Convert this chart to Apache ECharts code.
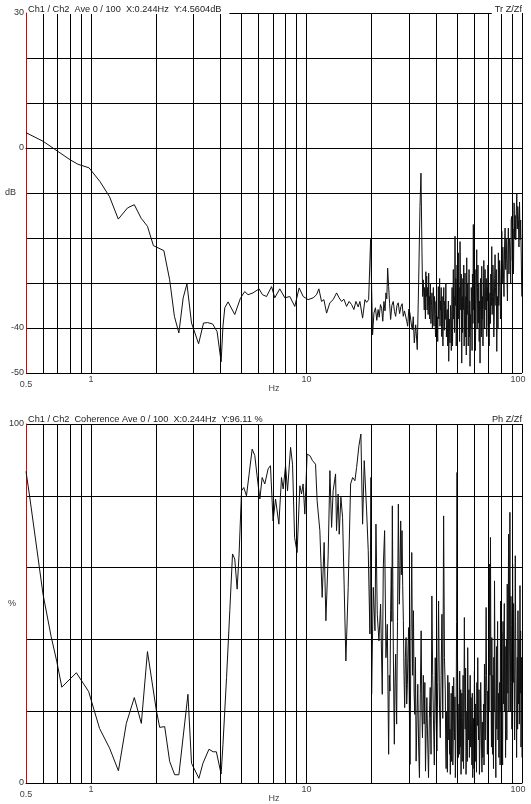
<!DOCTYPE html>
<html>
<head>
<meta charset="utf-8">
<script src="https://cdn.jsdelivr.net/npm/echarts/dist/echarts.min.js"></script>
<style>
  html, body { margin: 0; padding: 0; background: #fff; }
  #chart { width: 531px; height: 804px; }
</style>
</head>
<body>
<div id="chart"></div>
<script>
// 标题文字
const topTitle = "Ch1 / Ch2  Ave 0 / 100  X:0.244Hz  Y:4.5604dB";
const topTag = "Tr Z/Zf";
const bottomTitle = "Ch1 / Ch2  Coherence Ave 0 / 100  X:0.244Hz  Y:96.11 %";
const bottomTag = "Ph Z/Zf";

// 刻度
const hzTicks = [0.5, 1, 10, 100];
const hzGrid = [0.6, 0.7, 0.8, 0.9, 1, 2, 3, 4, 5, 6, 7, 8, 9, 10, 20, 30, 40, 50, 60, 70, 80, 90, 100];
const dbTicks = [30, 0, -40, -50];
const pctTicks = [100, 0];

// 传递函数 [Hz, dB]
const transferDb = [
  [0.5,3.4],[0.6,1.5],[0.7,-0.7],[0.8,-2.6],[0.87,-3.6],[0.98,-4.4],[1.1,-7.4],[1.22,-10.8],[1.34,-15.8],[1.48,-13.3],
  [1.59,-12.6],[1.71,-15.6],[1.83,-17.4],[1.95,-21.7],[2.18,-22.8],[2.32,-29.3],[2.44,-37.4],[2.56,-41.1],[2.68,-33.3],[2.79,-30.2],
  [2.93,-38.9],[3.16,-43.5],[3.33,-38.9],[3.48,-38.8],[3.67,-39.1],[3.85,-40.8],[4.02,-47.5],[4.1,-39.6],[4.18,-35.5],[4.33,-34.2],
  [4.65,-37.0],[4.94,-33.4],[5.17,-31.9],[5.36,-32.6],[5.65,-32.2],[6.03,-31.3],[6.25,-32.6],[6.53,-33.0],[6.89,-30.8],[7.13,-33.3],
  [7.52,-31.3],[7.94,-33.3],[8.37,-33.0],[8.83,-35.2],[9.25,-31.1],[9.66,-33.0],[10.18,-33.7],[10.74,-33.3],[11.14,-32.6],[11.42,-31.3],
  [11.75,-34.1],[12.05,-33.7],[12.4,-36.7],[12.84,-34.4],[13.3,-33.7],[13.8,-32.2],[14.18,-33.3],[14.55,-34.1],[14.92,-33.6],[15.35,-35.2],
  [15.78,-34.1],[16.19,-34.8],[16.6,-35.9],[16.96,-34.1],[17.38,-35.3],[17.7,-34.1],[18.22,-37.8],[18.68,-33.7],[19.02,-34.3],[19.43,-33.7],
  [19.7,-34.1],[19.85,-20.3],[20.27,-41.5],
  [20.56,-36.7],[20.9,-35.5],[21.2,-38.3],[21.5,-35.9],[21.76,-37.6],[22.05,-34.8],[22.33,-35.6],[22.6,-38.5],[22.88,-34.1],[23.15,-36.2],
  [23.38,-32.2],[23.6,-33.5],[23.81,-26.7],[24.06,-30.8],[24.3,-34.5],[24.58,-38.1],[24.9,-35.0],[25.28,-34.1],[25.6,-36.3],[25.93,-37.4],
  [26.3,-35.0],[26.66,-34.4],[27.05,-36.8],[27.45,-35.2],[27.8,-34.6],[28.13,-37.4],[28.5,-36.2],[28.86,-35.9],[29.2,-38.5],[29.49,-39.6],
  [29.85,-35.8],[30.2,-36.7],[30.6,-38.9],[30.97,-40.4],[31.3,-37.5],[31.64,-43.3],[32.12,-39.3],[32.4,-42.0],[32.67,-44.8],[33.17,-29.3],
  [33.63,-13.0],[33.99,-5.6],[34.36,-23.3],[34.6,-33.0],[34.84,-29.3],
  [35.2,-36.0],[35.34,-31],[35.48,-33.0],[35.64,-38],[35.8,-27.5],[35.96,-33],[36.13,-28.5],[36.3,-36],[36.5,-31.0],[36.7,-37],
  [36.91,-27.8],[37.05,-35],[37.2,-33.0],[37.3,-38],[37.43,-34.4],[37.6,-30],[37.8,-39.0],[38.0,-35],[38.23,-32.2],[38.4,-40],
  [38.6,-36.0],[38.8,-31],[39.06,-39.6],[39.28,-33],[39.5,-37.0],[39.7,-42],[39.9,-34.1],[40.15,-40],[40.4,-37.5],[40.65,-43],
  [40.9,-30.8],[41.1,-38],[41.3,-35.5],[41.48,-29],[41.65,-39.6],[41.82,-34],[42.0,-36.0],[42.2,-31],[42.41,-41.9],[42.6,-33],
  [42.8,-38.0],[42.97,-44],[43.14,-35.2],[43.37,-31],[43.6,-40.5],[43.84,-34],[44.08,-38.1],[44.34,-30],[44.6,-42.0],[44.8,-37],
  [45.03,-35.9],[45.2,-44],[45.4,-41.0],[45.55,-34],[45.71,-47.4],[46.03,-38],[46.35,-43.3],[46.58,-35],[46.8,-39.0],[47.0,-45],
  [47.2,-37.4],[47.4,-31],[47.6,-44.0],[47.8,-36],[48.02,-27.0],[48.2,-38],[48.4,-33.0],[48.65,-41],[48.89,-19.6],[49.1,-35],
  [49.3,-29.0],[49.55,-44],[49.79,-32.2],[50.0,-26],[50.2,-41.0],[50.42,-34],[50.65,-23.3],[50.88,-38],[51.1,-31.0],[51.35,-43],
  [51.58,-20.8],[51.8,-30],[52.0,-36.0],[52.27,-28],[52.53,-47.8],[52.77,-33],[53.0,-41.0],[53.2,-29],[53.43,-35.9],[53.67,-26],
  [53.9,-44.0],[54.15,-38],[54.41,-27.8],[54.65,-42],[54.9,-33.0],[55.15,-46],[55.41,-24.4],[55.7,-37],[56.0,-30.0],[56.3,-44],
  [56.61,-35.9],[56.8,-27],[57.0,-42.0],[57.2,-34],[57.4,-48.5],[57.65,-37],[57.9,-40.0],[58.17,-31],[58.45,-34.4],[58.67,-45],
  [58.9,-28.0],[59.2,-39],[59.46,-17.0],[59.73,-36],[60.0,-30.0],[60.27,-41],[60.55,-27.0],[60.8,-45],[61.1,-35.0],[61.4,-30],
  [61.67,-22.6],[61.93,-40],[62.2,-31.0],[62.47,-26],[62.73,-38.9],[63.0,-30],[63.3,-43.0],[63.6,-34],[63.88,-47.8],[64.2,-29],
  [64.5,-36.0],[64.78,-42],[65.05,-26.3],[65.33,-38],[65.6,-33.0],[65.9,-44],[66.17,-35.9],[66.5,-25],[66.8,-31.0],[67.1,-40],
  [67.39,-27.0],[67.7,-33],[68.0,-36.0],[68.3,-29],[68.62,-41.9],[68.9,-31],[69.2,-34.0],[69.5,-26],[69.81,-39.6],[70.1,-30],
  [70.4,-44.0],[70.75,-36],[71.09,-32.2],[71.4,-39],[71.7,-28.0],[72.05,-35],[72.39,-21.9],[72.7,-37],[73.0,-33.0],[73.3,-26],
  [73.64,-30.0],[74.0,-42],[74.3,-38.0],[74.65,-29],[74.99,-23.7],[75.35,-31],[75.7,-35.0],[76.0,-27],[76.37,-45.2],[76.7,-36],
  [77.0,-33.0],[77.35,-40],[77.69,-23.3],[78.05,-35],[78.4,-31.0],[78.75,-25],[79.12,-28.5],[79.45,-38],[79.8,-36.0],[80.2,-27],
  [80.57,-18.5],[81.0,-30.0],[81.5,-22.0],[81.96,-21.9],[82.5,-33.0],[83.0,-22.0],[83.46,-17.8],[84.0,-27.0],[84.5,-20.0],[85.0,-25.6],
  [85.6,-34.0],[86.0,-22.0],[86.44,-17.8],[87.0,-28.0],[87.5,-20.0],[88.04,-21.9],[88.6,-30.0],[89.1,-16.0],[89.66,-15.2],[90.2,-25.0],
  [90.8,-18.0],[91.3,-28.0],[91.89,-12.2],[92.5,-20.0],[93.0,-15.0],[93.58,-20.4],[94.1,-14.0],[94.58,-10.0],[95.1,-18.0],[95.6,-13.0],
  [96.22,-15.9],[96.8,-22.0],[97.4,-12.0],[97.98,-20.4],[98.6,-16.0],[99.2,-24.0],[99.77,-33.0]
];

// 相干 [Hz, %]
const coherencePct = [
  [0.5,86.8],[0.52,79.8],[0.6,52.5],[0.654,40.8],[0.695,33.8],[0.733,26.7],[0.856,30.7],[0.976,25.5],[1.097,15.2],[1.221,9.7],
  [1.342,3.4],[1.46,16.6],[1.59,23.8],[1.714,16.6],[1.83,36.6],[2.01,20.4],[2.085,15.5],[2.2,15.7],[2.32,6.0],[2.447,2.3],
  [2.56,2.3],[2.82,24.7],[2.93,5.5],[3.17,1.3],[3.31,5.5],[3.53,9.4],[3.69,8.7],[3.82,8.7],[4.02,2.5],
  [4.1,10.8],[4.26,29.4],[4.41,48.0],[4.54,63.8],[4.65,62.4],[4.77,54.0],[4.87,63.8],[5.0,81.4],[5.12,82.3],[5.27,80.0],
  [5.42,86.0],[5.6,93.0],[5.76,91.2],[5.9,85.6],[6.08,79.1],[6.23,85.1],[6.41,83.3],[6.64,87.5],[6.81,88.4],[7.0,73.0],
  [7.19,79.1],[7.45,72.1],[7.66,85.1],[7.8,81.9],[8.0,88.4],[8.17,81.4],[8.44,93.5],[8.62,88.8],[8.81,68.4],[9.05,64.2],
  [9.32,82.8],[9.49,80.5],[9.65,83.3],[9.83,74.9],[10.07,91.6],[10.37,91.2],[10.67,89.8],[11.02,88.8],[11.21,78.6],[11.54,70.3],
  [11.83,51.7],[12.08,67.0],[12.31,45.2],[12.61,63.3],[12.85,87.0],[13.08,71.2],[13.3,81.4],[13.65,86.1],[13.79,70.3],[14.03,80.5],
  [14.19,69.3],[14.45,79.6],[14.71,74.0],[15.24,34.0],[15.62,54.5],[16.03,83.3],[16.38,85.1],[16.78,84.2],[17.09,87.9],[17.52,94.0],
  [17.89,97.2],[18.22,72.1],[18.54,89.8],[19.02,75.8],[19.35,64.7],[19.7,41.5],[19.92,85.1],
  [20.06,24.7],[20.42,54.5],[20.79,42.4],[21.01,72.1],[21.31,47.0],[21.69,39.6],[22.08,49.8],[22.48,24.7],[22.72,60.0],[23.05,70.3],
  [23.38,34.9],[23.72,44.2],
  [24.06,8.0],[24.23,30.0],[24.41,25.6],[24.58,48],[24.76,60.0],[24.9,45],[25.03,77.2],[25.17,55],[25.3,36.8],[25.44,22],
  [25.57,10.8],[25.75,28],[25.94,35.9],[26.08,24],[26.21,16.4],[26.45,45],[26.69,77.7],[26.84,62],[26.98,49.8],[27.18,60],
  [27.37,73.0],[27.56,58],[27.76,70.3],[27.96,55],[28.16,45.2],[28.36,30],[28.56,21.0],[28.77,35],[28.98,40.5],[29.18,22],
  [29.39,27.5],[29.6,38],[29.82,43.3],[30.03,20],[30.25,5.2],[30.52,40],[30.8,64.2],[31.08,30],[31.36,48.0],[31.58,25],
  [31.81,19.1],[32.04,35],[32.27,6.1],[32.56,18],[32.85,27.5],[33.15,10],[33.44,1.5],[33.75,25],[34.05,42.4],[34.3,20],
  [34.54,12.6],[34.85,30],[35.17,16.4],[35.42,28],[35.67,3.3],[35.93,15],[36.19,23.8],[36.5,12],[36.84,1.5],[37.17,18],
  [37.51,26.6],[37.85,8],[38.18,52.1],[38.52,30],[38.87,16.4],[39.2,5],[39.58,34.9],[39.93,20],[40.29,8.9],[40.65,28],
  [41.02,50.7],[41.4,22],[41.77,12.6],[42.15,30],[42.52,47.0],[42.9,18],[43.29,74.4],[43.68,35],
  [44.07,25.6],[44.27,10],[44.47,4],[44.67,20],[44.87,11.7],[45.07,3],[45.27,30],[45.48,12],[45.68,19.1],[45.9,28],
  [46.1,8],[46.3,15],[46.5,2.4],[46.7,12],[46.92,25],[47.13,6],[47.34,16.4],[47.55,27],[47.77,5],[48.0,14],
  [48.2,29.4],[48.4,20],[48.63,12],[48.85,24],[49.07,1.5],[49.3,10],[49.5,20],[49.73,45],[49.96,86.5],[50.13,40],
  [50.3,30],[50.5,15],[50.67,7.1],[50.85,18],[51.03,22],[51.2,8],[51.4,31.2],[51.6,20],[51.77,10],[51.95,26],
  [52.14,2.4],[52.37,14],[52.6,25],[52.83,6],[53.07,18.2],[53.3,30],[53.55,4],[53.8,22],[54.03,46.1],[54.27,25],
  [54.5,15],[54.75,32],[55.0,2.4],[55.25,12],[55.5,20],[55.75,6],[55.99,37.7],[56.25,22],[56.5,12],[56.75,26],
  [57.0,7.1],[57.25,18],[57.5,30],[57.77,10],[58.03,23.8],[58.3,14],[58.55,5],[58.8,25],[59.08,1.5],[59.35,10],
  [59.6,18],[59.88,4],[60.15,31.2],[60.42,18],[60.7,6],[60.97,22],[61.23,14.5],[61.5,3],[61.78,28],[62.06,16],
  [62.34,34.9],[62.62,20],[62.9,12],[63.18,26],[63.46,2.4],[63.75,9],[64.03,15],[64.32,28],[64.61,21.0],[64.9,10],
  [65.2,3],[65.48,17],[65.77,7.1],[66.06,14],[66.36,22],[66.66,5],[66.96,33.1],[67.26,20],[67.56,12],[67.86,30],
  [68.17,48.9],[68.47,30],[68.78,20],[69.1,8],[69.4,25.6],[69.7,12],[70.0,40],[70.32,20],[70.65,61.0],[70.84,45],
  [71.03,30],[71.22,48],[71.41,68.4],[71.67,40],[71.92,22],[72.18,10],[72.44,40.5],[72.7,25],[72.96,8],[73.22,30],
  [73.49,16.4],[73.75,4],[74.02,35],[74.28,20],[74.55,56.3],[74.82,38],[75.1,20],[75.37,10],[75.63,1.5],[75.9,22],
  [76.17,38],[76.45,15],[76.72,29.4],[77.06,45],[77.4,12],[77.75,25],[78.1,7.1],[78.45,18],[78.8,28],[79.15,5],
  [79.51,50.7],[79.87,20],[80.23,30],[80.6,42],[80.95,16.4],[81.3,5],[81.68,45],[82.05,22],[82.41,35.9],[82.78,50],
  [83.15,20],[83.52,38],[83.9,7.1],[84.27,25],[84.65,40],[85.03,12],[85.41,55.4],[85.72,32],[86.03,25],[86.34,48],
  [86.65,69.3],[86.96,20],[87.27,35],[87.58,55],[87.89,75.4],[88.2,40],[88.52,20],[88.84,52],[89.16,44.2],[89.48,28],
  [89.8,15],[90.12,38],[90.45,61.0],[90.78,42],[91.1,28],[91.42,50],[91.75,34.9],[92.08,22],[92.4,12],[92.74,40],
  [93.08,63.3],[93.42,45],[93.75,30],[94.1,18],[94.42,7.1],[94.76,25],[95.1,35],[95.44,15],[95.78,48.0],[96.12,30],
  [96.47,22],[96.82,40],[97.17,16.4],[97.52,30],[97.87,55],[98.22,25],[98.57,42.4],[98.93,10],[99.3,20],[99.65,35],
  [100,7.1]
];

const FONT = "'Liberation Sans', Arial, sans-serif";
const LINE_COLOR = "#111";

let myChart = echarts.init(document.getElementById("chart"), null, { renderer: "canvas" });

function isTick(list, v) {
  return list.some((t) => Math.abs(t - v) < 1e-6);
}

function hzAxis(gridIndex) {
  return {
    gridIndex: gridIndex,
    type: "log",
    logBase: 10,
    min: 0.5,
    max: 100,
    axisLine: { show: true, lineStyle: { color: "#000", width: 1 } },
    axisTick: { show: false },
    splitLine: { show: false },
    axisLabel: {
      show: true,
      margin: 2,
      fontSize: 9,
      color: "#444",
      fontFamily: FONT,
      showMinLabel: true,
      showMaxLabel: true,
      formatter: (v) => {
        if (!isTick(hzTicks, v)) return "";
        if (Math.abs(v - 0.5) < 1e-6) return "{lo|0.5}";
        if (Math.abs(v - 100) < 1e-6) return "{hi|100}";
        return String(Math.round(v));
      },
      rich: {
        lo: { padding: [5, 0, 0, 0], fontSize: 9, color: "#444", fontFamily: FONT },
        hi: { padding: [0, 8, 0, 0], fontSize: 9, color: "#444", fontFamily: FONT },
      },
    },
    name: "Hz",
    nameLocation: "middle",
    nameGap: 11,
    nameMoveOverlap: false,
    nameTextStyle: { fontSize: 9, color: "#444", fontFamily: FONT },
  };
}

function valueAxis(gridIndex, min, max, interval, ticks, unit) {
  return {
    gridIndex: gridIndex,
    type: "value",
    min: min,
    max: max,
    interval: interval,
    axisLine: { show: true, onZero: false, lineStyle: { color: "#e00000", width: 1 } },
    axisTick: { show: false },
    splitLine: { show: true, lineStyle: { color: "#000", width: 1 } },
    axisLabel: {
      margin: 2,
      fontSize: 9,
      color: "#333",
      fontFamily: FONT,
      showMinLabel: true,
      showMaxLabel: true,
      formatter: (v) => (isTick(ticks, v) ? String(v) : ""),
    },
    name: unit,
    nameLocation: "middle",
    nameRotate: 0,
    nameGap: 10,
    nameMoveOverlap: false,
    nameTextStyle: { fontSize: 9, color: "#333", fontFamily: FONT },
  };
}

function gridLines(axisIndex) {
  // 竖向网格线（对数刻度）
  return {
    type: "line",
    xAxisIndex: axisIndex,
    yAxisIndex: axisIndex,
    data: [],
    silent: true,
    z: 1,
    markLine: {
      silent: true,
      symbol: "none",
      animation: false,
      label: { show: false },
      lineStyle: { color: "#000", width: 1, type: "solid" },
      emphasis: { disabled: true },
      data: hzGrid.map((v) => ({ xAxis: v })),
    },
  };
}

function titleBox(text, pos, top) {
  return Object.assign(
    {
      text: text,
      top: top,
      padding: pos.left !== undefined ? [1, 8, 0, 1] : [1, 0, 0, 3],
      backgroundColor: "#fff",
      z: 10,
      textStyle: { fontSize: 9.2, lineHeight: 10, fontWeight: "normal", color: "#222", fontFamily: FONT },
    },
    pos
  );
}

let option = {
  animation: false,
  backgroundColor: "#fff",
  textStyle: { fontFamily: FONT },
  title: [
    titleBox(topTitle, { left: 27 }, 3),
    titleBox(topTag, { right: 9 }, 3),
    titleBox(bottomTitle, { left: 27 }, 413),
    titleBox(bottomTag, { right: 9 }, 413),
  ],
  grid: [
    { left: 26, right: 9, top: 13, height: 360, containLabel: false, outerBoundsMode: "none" },
    { left: 26, right: 9, top: 424, height: 359, containLabel: false, outerBoundsMode: "none" },
  ],
  xAxis: [hzAxis(0), hzAxis(1)],
  yAxis: [
    valueAxis(0, -50, 30, 10, dbTicks, "dB"),
    valueAxis(1, 0, 100, 20, pctTicks, "%"),
  ],
  series: [
    gridLines(0),
    gridLines(1),
    {
      name: "Tr Z/Zf",
      type: "line",
      xAxisIndex: 0,
      yAxisIndex: 0,
      data: transferDb,
      symbol: "none",
      z: 3,
      lineStyle: { color: LINE_COLOR, width: 1 },
      emphasis: { disabled: true },
    },
    {
      name: "Coherence",
      type: "line",
      xAxisIndex: 1,
      yAxisIndex: 1,
      data: coherencePct,
      symbol: "none",
      z: 3,
      lineStyle: { color: LINE_COLOR, width: 1 },
      emphasis: { disabled: true },
    },
  ],
};

option && myChart.setOption(option);
</script>
</body>
</html>
